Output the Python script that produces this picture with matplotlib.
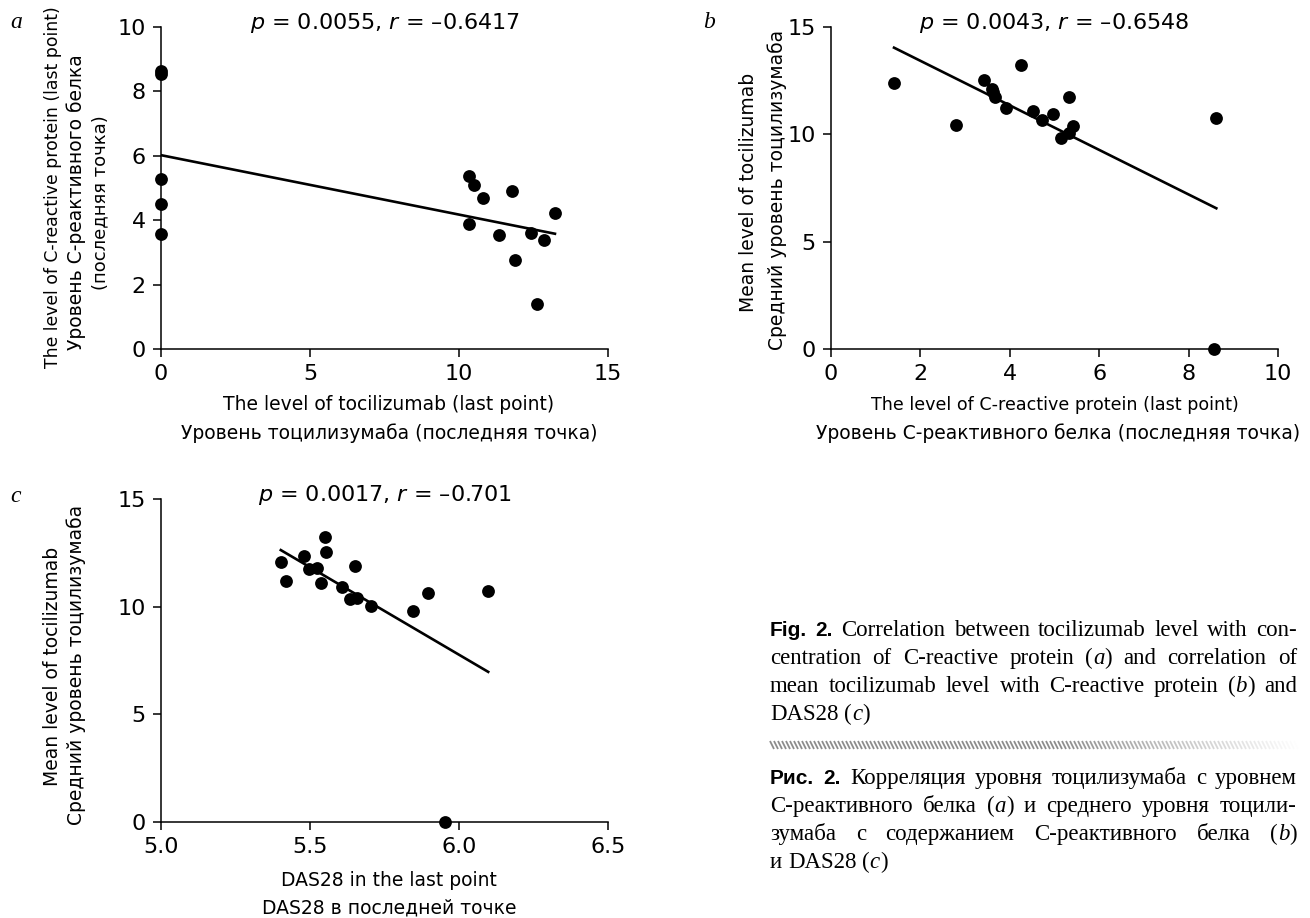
import numpy as np
import matplotlib
matplotlib.use("Agg")
import matplotlib.pyplot as plt
from matplotlib.collections import LineCollection

plt.rcParams['font.family'] = ['DejaVu Sans']

# ---- data ----
# a: tocilizumab (last point) vs C-reactive protein (last point)
toci_last = [0, 0, 0, 0, 0, 10.35, 10.49, 10.82, 11.79, 13.22, 10.32, 11.34, 12.43, 12.85, 11.88, 12.62]
crp_last_a = [8.62, 8.55, 5.28, 4.49, 3.58, 5.37, 5.10, 4.69, 4.92, 4.23, 3.87, 3.53, 3.61, 3.37, 2.76, 1.39]
fit_a = (-0.1846, 6.02)          # slope, intercept
stat_a = "$p$ = 0.0055, $r$ = –0.6417"

# b: C-reactive protein (last point) vs mean tocilizumab
crp_last_b = [1.41, 2.80, 3.42, 3.60, 3.63, 3.66, 3.92, 4.25, 4.52, 4.72, 4.96, 5.32, 5.14, 5.33, 5.42, 8.62, 8.57]
toci_mean_b = [12.37, 10.42, 12.55, 12.12, 11.95, 11.76, 11.24, 13.24, 11.11, 10.68, 10.93, 11.73, 9.81, 10.05, 10.37, 10.74, 0.0]
fit_b = (-1.0376, 15.50)
stat_b = "$p$ = 0.0043, $r$ = –0.6548"

# c: DAS28 in the last point vs mean tocilizumab
das28 = [5.402, 5.42, 5.48, 5.495, 5.525, 5.536, 5.551, 5.554, 5.608, 5.634, 5.659, 5.652, 5.704, 5.845, 5.897, 6.098, 5.953]
toci_mean_c = [12.08, 11.21, 12.34, 11.74, 11.78, 11.09, 13.22, 12.53, 10.91, 10.34, 10.42, 11.91, 10.05, 9.81, 10.65, 10.74, 0.0]
fit_c = (-8.127, 56.53)
stat_c = "$p$ = 0.0017, $r$ = –0.701"

caption_en = ["Fig. 2. Correlation between tocilizumab level with con-",
              "centration of C-reactive protein (a) and correlation of",
              "mean tocilizumab level with C-reactive protein (b) and",
              "DAS28 (c)"]
caption_ru = ["Рис. 2. Корреляция уровня тоцилизумаба с уровнем",
              "С-реактивного белка (a) и среднего уровня тоцили-",
              "зумаба с содержанием С-реактивного белка (b)",
              "и DAS28 (c)"]

W, H = 1310, 918
fig = plt.figure(figsize=(W / 100, H / 100), dpi=100)


def fx(px):
    return px / W


def fy(py):
    return 1 - py / H


def panel(rect, x, y, fit, stat, xlim, xticks, ylim, yticks, fmt=None):
    l, t, r, b = rect
    ax = fig.add_axes([fx(l), fy(b), (r - l) / W, (b - t) / H])
    ax.scatter(x, y, s=85, color='black', zorder=3, clip_on=False, linewidths=0)
    xs = np.array([min(x), max(x)])
    ax.plot(xs, fit[0] * xs + fit[1], color='black', lw=1.9)
    ax.set_xlim(xlim)
    ax.set_ylim(ylim)
    ax.set_xticks(xticks)
    ax.set_yticks(yticks)
    if fmt:
        ax.set_xticklabels([fmt % v for v in xticks])
    for s in ['top', 'right']:
        ax.spines[s].set_visible(False)
    for s in ['left', 'bottom']:
        ax.spines[s].set_linewidth(1.1)
    ax.tick_params(direction='out', length=6, width=1.1, labelsize=16, pad=5)
    ax.text(0.5, 1 + 4 / (b - t), stat, transform=ax.transAxes, ha='center', va='center', fontsize=16)
    return ax


panel((161, 27, 608, 349), toci_last, crp_last_a, fit_a, stat_a, (0, 15), [0, 5, 10, 15], (0, 10), [0, 2, 4, 6, 8, 10])
panel((831, 27, 1278, 349), crp_last_b, toci_mean_b, fit_b, stat_b, (0, 10), [0, 2, 4, 6, 8, 10], (0, 15), [0, 5, 10, 15])
panel((161, 499, 608, 822), das28, toci_mean_c, fit_c, stat_c, (5.0, 6.5), [5.0, 5.5, 6.0, 6.5], (0, 15), [0, 5, 10, 15], fmt='%.1f')

# panel letters
for ch, px, py in [('a', 16, 22), ('b', 709, 22), ('c', 16, 496)]:
    fig.text(fx(px), fy(py), ch, family='Liberation Serif', style='italic', size=17, ha='center', va='center')

# axis labels: text, x px, y px, size
ylabels = [
    ("The level of C-reactive protein (last point)", 53, 187, 12.4),
    ("Уровень С-реактивного белка", 76, 202, 13.5),
    ("(последняя точка)", 100, 203, 13),
    ("Mean level of tocilizumab", 749, 192, 13.5),
    ("Средний уровень тоцилизумаба", 777, 190, 13.5),
    ("Mean level of tocilizumab", 53, 666, 13.5),
    ("Средний уровень тоцилизумаба", 76, 665, 13.5),
]
for txt, px, py, sz in ylabels:
    fig.text(fx(px), fy(py), txt, rotation=90, ha='center', va='center', family='DejaVu Sans', size=sz)

xlabels = [
    ("The level of tocilizumab (last point)", 389, 405, 13.5),
    ("Уровень тоцилизумаба (последняя точка)", 389, 433, 13.5),
    ("The level of C-reactive protein (last point)", 1055, 405, 12.6),
    ("Уровень С-реактивного белка (последняя точка)", 1058, 433, 13.5),
    ("DAS28 in the last point", 389, 880, 13.5),
    ("DAS28 в последней точке", 389, 908, 13.5),
]
for txt, px, py, sz in xlabels:
    fig.text(fx(px), fy(py), txt, ha='center', va='center', family='DejaVu Sans', size=sz)

# caption, justified
renderer = fig.canvas.get_renderer()
serif = dict(family='Liberation Serif', size=16.5)
serif_it = dict(family='Liberation Serif', size=16.5, style='italic')
bold = dict(family='Liberation Sans', size=15, weight='bold')


def width(s, st):
    t = fig.text(0, 0, s, **st)
    w = t.get_window_extent(renderer).width
    t.remove()
    return w


def segments(word, is_bold):
    if is_bold:
        return [(word, bold)]
    if len(word) == 3 and word[0] == '(' and word[2] == ')':
        return [('(', serif), (word[1], serif_it), (')', serif)]
    return [(word, serif)]


def caption_line(text, y, x0, x1, justify, nbold=0):
    words = [segments(w, i < nbold) for i, w in enumerate(text.split())]
    ws = [sum(width(s, st) for s, st in wd) for wd in words]
    gap = (x1 - x0 - sum(ws)) / (len(words) - 1) if justify else width('a a', serif) - width('aa', serif)
    x = x0
    for wd, w in zip(words, ws):
        for s, st in wd:
            fig.text(fx(x), fy(y), s, va='baseline', ha='left', **st)
            x += width(s, st)
        x += gap


X0, X1 = 770, 1297
for i, line in enumerate(caption_en):
    caption_line(line, 636 + 28 * i, X0, X1, i < 3, nbold=2 if i == 0 else 0)
for i, line in enumerate(caption_ru):
    caption_line(line, 784 + 28 * i, X0, X1, i < 3, nbold=2 if i == 0 else 0)

# hatched rule that fades to the right
segs, cols = [], []
for xp in np.arange(X0, X1, 4.0):
    t = (xp - X0) / (X1 - X0)
    a = min(1.0, 2.2 * (1 - t))
    segs.append([(fx(xp), fy(741)), (fx(xp + 4), fy(749))])
    cols.append((0.55, 0.55, 0.55, a))
fig.add_artist(LineCollection(segs, colors=cols, linewidths=1.3, transform=fig.transFigure))

fig.savefig('out.png', dpi=100)
